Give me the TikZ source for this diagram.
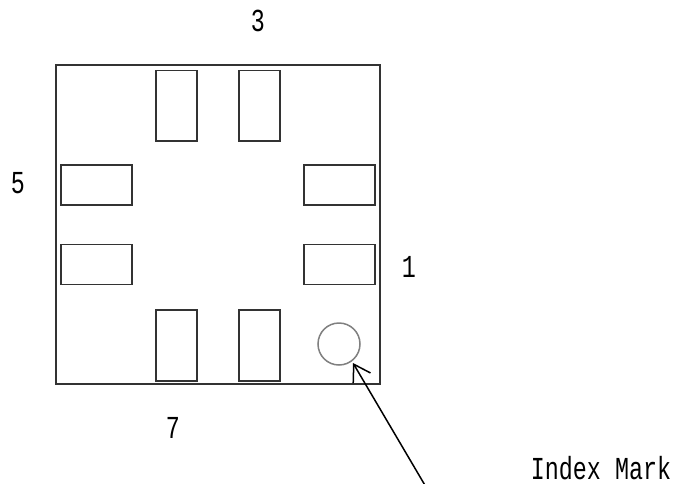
\documentclass[tikz,border=0pt]{standalone}
\usepackage{fontspec}
\setmainfont{Liberation Mono}
\usetikzlibrary{arrows.meta}
\newcommand{\gothic}[1]{\scalebox{0.73}[1]{\fontsize{32}{32}\selectfont #1}}
\tikzset{
  x=1pt,y=-1pt,
  outline/.style={draw=black!80,line width=1.7pt},
  padbox/.style={draw=black!80,line width=1.7pt},
  lbl/.style={inner sep=0pt,text=black,anchor=center},
  leader/.style={draw=black,line width=1.5pt,-{Straight Barb[length=16pt,width=20pt,line width=1.5pt]}}
}
\begin{document}
\begin{tikzpicture}
\useasboundingbox (0,0) rectangle (681,483);
\fill[white] (0,0) rectangle (681,483);
\node[outline,minimum width=324pt,minimum height=319pt,inner sep=0pt,anchor=north west] (body) at (55.4,64.4) {};
\foreach \n/\x/\y in {t1/155.4/69.6,t2/238.4/69.6,b1/155.4/309.4,b2/238.4/309.4}
  \node[padbox,minimum width=41pt,minimum height=70.5pt,inner sep=0pt,anchor=north west] (\n) at (\x,\y) {};
\foreach \n/\x/\y in {l1/60.4/164.4,l2/60.4/243.6,r1/303.4/164.4,r2/303.4/243.6}
  \node[padbox,minimum width=71pt,minimum height=40pt,inner sep=0pt,anchor=north west] (\n) at (\x,\y) {};
\node[draw=black!50,line width=1.5pt,circle,minimum size=42pt,inner sep=0pt] (idx) at (339,344) {};
\coordinate (tip) at (353,363);
\coordinate (tail) at (426,487);
\draw[leader] (tail) -- (tip);
\node[lbl] (n3) at (258,21) {\gothic{3}};
\node[lbl] (n5) at (18,183) {\gothic{5}};
\node[lbl] (n1) at (409,267) {\gothic{1}};
\node[lbl] (n7) at (173,428) {\gothic{7}};
\node[lbl] (im) at (601,468) {\gothic{Index Mark}};
\end{tikzpicture}
\end{document}
